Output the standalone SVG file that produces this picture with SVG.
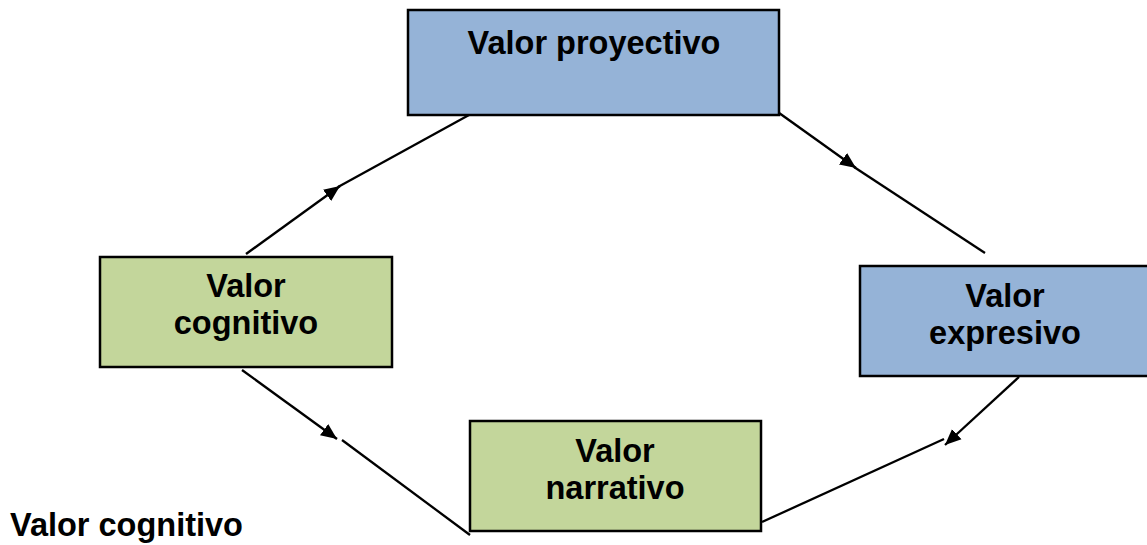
<svg xmlns="http://www.w3.org/2000/svg" width="1147" height="545" viewBox="0 0 1147 545">
<style>
.box{stroke:#000;stroke-width:2.5}
.blue{fill:#95B3D7}
.green{fill:#C3D69B}
text{font-family:"Liberation Sans",Arial,sans-serif;font-weight:bold;font-size:32.5px;fill:#000}
.c{text-anchor:middle}
.ln{stroke:#000;stroke-width:2.3;fill:none}
</style>
<defs>
<marker id="ah" markerUnits="userSpaceOnUse" markerWidth="18" markerHeight="16" refX="16" refY="8" orient="auto">
<path d="M0,1 L16,8 L0,15 z" fill="#000"/>
</marker>
</defs>
<rect width="1147" height="545" fill="#fff"/>
<g id="connectors">
<line class="ln" x1="246" y1="254" x2="340" y2="186" marker-end="url(#ah)"/>
<line class="ln" x1="338" y1="187" x2="469" y2="115"/>
<line class="ln" x1="761" y1="100" x2="856" y2="168" marker-end="url(#ah)"/>
<line class="ln" x1="854" y1="167" x2="985" y2="253"/>
<line class="ln" x1="242" y1="370" x2="337" y2="439" marker-end="url(#ah)"/>
<line class="ln" x1="342" y1="440" x2="470" y2="535"/>
<line class="ln" x1="1019" y1="377" x2="945" y2="445" marker-end="url(#ah)"/>
<line class="ln" x1="944" y1="439" x2="762" y2="522"/>
</g>
<g id="proyectivo">
<rect class="box blue" x="408" y="10" width="371" height="105"/>
<text class="c" x="594" y="54">Valor proyectivo</text>
</g>
<g id="cognitivo">
<rect class="box green" x="100" y="257" width="292" height="110"/>
<text class="c" x="246" y="297">Valor</text>
<text class="c" x="246" y="334">cognitivo</text>
</g>
<g id="expresivo">
<rect class="box blue" x="860" y="266" width="290" height="110"/>
<text class="c" x="1005" y="307">Valor</text>
<text class="c" x="1005" y="344">expresivo</text>
</g>
<g id="narrativo">
<rect class="box green" x="470" y="421" width="291" height="110"/>
<text class="c" x="615" y="462">Valor</text>
<text class="c" x="615" y="499">narrativo</text>
</g>
<g id="caption">
<text x="10" y="536">Valor cognitivo</text>
</g>
</svg>
